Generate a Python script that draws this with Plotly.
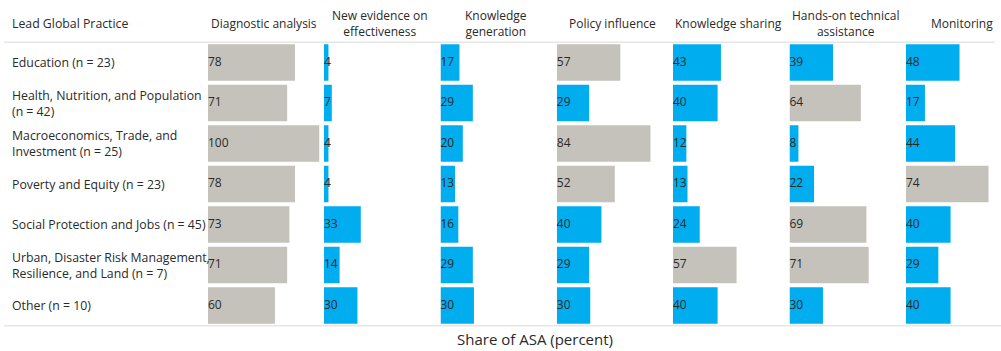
import plotly.graph_objects as go

# Lead Global Practices (rows) and their display labels
practices = [
    "Education (n = 23)",
    "Health, Nutrition, and Population (n = 42)",
    "Macroeconomics, Trade, and Investment (n = 25)",
    "Poverty and Equity (n = 23)",
    "Social Protection and Jobs (n = 45)",
    "Urban, Disaster Risk Management, Resilience, and Land (n = 7)",
    "Other (n = 10)",
]
practice_labels = [
    "Education (n = 23)",
    "Health, Nutrition, and Population<br>(n = 42)",
    "Macroeconomics, Trade, and<br>Investment (n = 25)",
    "Poverty and Equity (n = 23)",
    "Social Protection and Jobs (n = 45)",
    "Urban, Disaster Risk Management,<br>Resilience, and Land (n = 7)",
    "Other (n = 10)",
]

# ASA objectives (columns)
objectives = [
    "Diagnostic analysis",
    "New evidence on<br>effectiveness",
    "Knowledge<br>generation",
    "Policy influence",
    "Knowledge sharing",
    "Hands-on technical<br>assistance",
    "Monitoring",
]

# Share of ASA (percent), one list per objective, in practice order
diagnostic_analysis = [78, 71, 100, 78, 73, 71, 60]
new_evidence = [4, 7, 4, 4, 33, 14, 30]
knowledge_generation = [17, 29, 20, 13, 16, 29, 30]
policy_influence = [57, 29, 84, 52, 40, 29, 30]
knowledge_sharing = [43, 40, 12, 13, 24, 57, 40]
hands_on_assistance = [39, 64, 8, 22, 69, 71, 30]
monitoring = [48, 17, 44, 74, 40, 29, 40]

series = [diagnostic_analysis, new_evidence, knowledge_generation,
          policy_influence, knowledge_sharing, hands_on_assistance, monitoring]

W, H = 1001, 351
GRAY = "#C4C2BA"
BLUE = "#00ADEF"
TEXT = "#2A2A2A"
FONT = "Open Sans"

col_left = [208, 324, 440.5, 556.8, 673, 789.5, 906]
px_per_pct = 1.115           # horizontal pixels per percentage point
col_width = 100 * px_per_pct
plot_top, plot_bottom = 42.3, 325.8

fig = go.Figure()
layout = {}
annotations = []

for i, vals in enumerate(series):
    ax = "x" if i == 0 else f"x{i + 1}"
    key = "xaxis" if i == 0 else f"xaxis{i + 1}"
    colors = [GRAY if v >= 50 else BLUE for v in vals]
    fig.add_trace(go.Bar(
        x=vals, y=practices, orientation="h", width=0.9,
        marker=dict(color=colors, line=dict(width=0)),
        xaxis=ax, yaxis="y", hoverinfo="skip", showlegend=False,
    ))
    fig.add_trace(go.Scatter(
        x=[0] * len(vals), y=practices, mode="text",
        text=[str(v) for v in vals], textposition="middle right",
        textfont=dict(family=FONT, size=12, color=TEXT),
        xaxis=ax, yaxis="y", hoverinfo="skip", showlegend=False,
        cliponaxis=False,
    ))
    width_px = min(col_width, W - col_left[i])
    layout[key] = dict(
        domain=[col_left[i] / W, (col_left[i] + width_px) / W],
        range=[0, width_px / px_per_pct], anchor="y", visible=False,
        fixedrange=True,
    )
    center = (col_left[i] + col_width / 2) / W
    annotations.append(dict(
        text=objectives[i], xref="paper", yref="paper",
        x=min(center, 0.999), y=1 - 24 / H, xanchor="center",
        yanchor="middle", showarrow=False, align="center",
        font=dict(family=FONT, size=12, color=TEXT),
    ))

for name, label in zip(practices, practice_labels):
    annotations.append(dict(
        text=label, xref="paper", yref="y", x=10 / W, y=name,
        xanchor="left", yanchor="middle", showarrow=False, align="left",
        font=dict(family=FONT, size=12.3, color=TEXT),
    ))

annotations.append(dict(
    text="Lead Global Practice", xref="paper", yref="paper",
    x=10 / W, y=1 - 24 / H, xanchor="left", yanchor="middle",
    showarrow=False, font=dict(family=FONT, size=12.3, color=TEXT),
))
annotations.append(dict(
    text="Share of ASA (percent)", xref="paper", yref="paper",
    x=535 / W, y=1 - 339 / H, xanchor="center", yanchor="middle",
    showarrow=False, font=dict(family=FONT, size=15, color=TEXT),
))

layout["yaxis"] = dict(
    domain=[1 - plot_bottom / H, 1 - plot_top / H],
    categoryorder="array", categoryarray=practices,
    range=[len(practices) - 0.5, -0.5], visible=False, fixedrange=True,
    anchor="x",
)

shapes = [
    dict(type="line", xref="paper", yref="paper", x0=4 / W, x1=995 / W,
         y0=1 - plot_top / H, y1=1 - plot_top / H,
         line=dict(color="#E6E6E6", width=1.5)),
    dict(type="line", xref="paper", yref="paper", x0=4 / W, x1=1,
         y0=1 - plot_bottom / H, y1=1 - plot_bottom / H,
         line=dict(color="#E6E6E6", width=1.5)),
]

fig.update_layout(
    width=W, height=H,
    margin=dict(l=0, r=0, t=0, b=0),
    paper_bgcolor="white", plot_bgcolor="white",
    barmode="overlay", annotations=annotations, shapes=shapes,
    **layout,
)

fig.write_html("out.html", config={"displayModeBar": False})
